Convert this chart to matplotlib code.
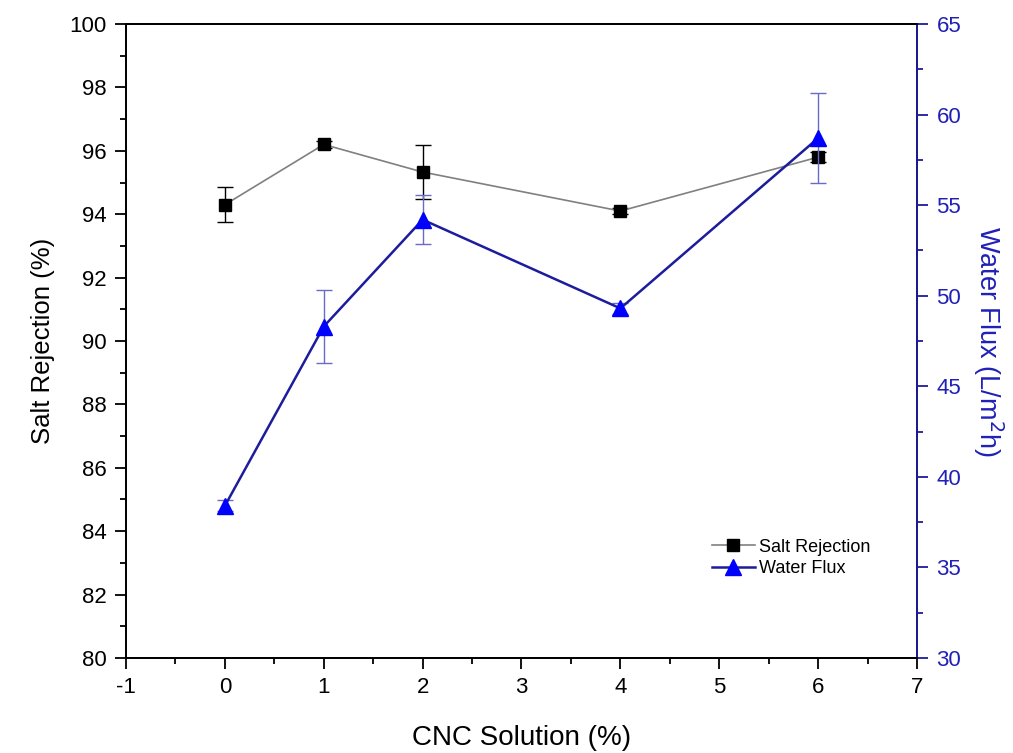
import matplotlib
matplotlib.use("Agg")
import matplotlib.pyplot as plt
from matplotlib.lines import Line2D
from matplotlib.ticker import MultipleLocator

plt.rcParams["font.family"] = ["Liberation Sans", "DejaVu Sans"]
plt.rcParams["axes.unicode_minus"] = False

BLUE, DBLUE, EBLUE, GREY = "#0000ff", "#1c1c9c", "#6a6ac8", "#808080"
LBLUE = "#2020b8"

cnc = [0, 1, 2, 4, 6]
salt_rej = [94.3, 96.2, 95.33, 94.1, 95.8]
salt_err = [0.55, 0.1, 0.85, 0.1, 0.15]
water_flux = [38.4, 48.3, 54.2, 49.3, 58.7]
flux_err = [0.3, 2.0, 1.35, 0.3, 2.5]

fig = plt.figure(figsize=(10.13, 7.53), dpi=100)
ax = fig.add_axes([0.1244, 0.1262, 0.7808, 0.8419])
ax2 = ax.twinx()

ax.errorbar(cnc, salt_rej, yerr=salt_err, color=GREY, lw=1.2, marker="s", ms=9,
            mfc="black", mec="black", ecolor="black", elinewidth=1, capsize=6,
            capthick=1, zorder=3)
ax2.errorbar(cnc, water_flux, yerr=flux_err, color=DBLUE, lw=1.8, marker="^", ms=11,
             mfc=BLUE, mec=BLUE, ecolor=EBLUE, elinewidth=1, capsize=6,
             capthick=1, zorder=3)

ax.set_xlim(-1, 7)
ax.set_ylim(80, 100)
ax2.set_ylim(30, 65)
ax.xaxis.set_major_locator(MultipleLocator(1))
ax.xaxis.set_minor_locator(MultipleLocator(0.5))
ax.yaxis.set_major_locator(MultipleLocator(2))
ax.yaxis.set_minor_locator(MultipleLocator(1))
ax2.yaxis.set_major_locator(MultipleLocator(5))
ax2.yaxis.set_minor_locator(MultipleLocator(2.5))

for a in (ax, ax2):
    a.tick_params(which="major", direction="out", length=8, width=1.3, labelsize=16)
    a.tick_params(which="minor", direction="out", length=4, width=1.3)
    for s in a.spines.values():
        s.set_linewidth(1.3)
ax.tick_params(top=False, right=False, which="both")
ax2.tick_params(axis="y", which="both", colors=DBLUE, labelcolor=LBLUE)
ax2.spines["right"].set_color(DBLUE)
ax.xaxis.set_tick_params(pad=6)
ax.yaxis.set_tick_params(pad=6)
ax2.yaxis.set_tick_params(pad=6)

ax.set_xlabel("CNC Solution (%)", fontsize=20, labelpad=19)
ax.set_ylabel("Salt Rejection (%)", fontsize=18.5, labelpad=10)
ax2.set_ylabel("Water Flux (L/m$^2$h)", fontsize=19.5, color=LBLUE,
               rotation=270, labelpad=32)

handles = [
    Line2D([], [], color=GREY, lw=1.2, marker="s", ms=9, mfc="black", mec="black"),
    Line2D([], [], color=DBLUE, lw=1.8, marker="^", ms=11, mfc=BLUE, mec=BLUE),
]
ax2.legend(handles, ["Salt Rejection", "Water Flux"], loc="lower left",
           bbox_to_anchor=(0.72, 0.102), frameon=False, fontsize=13,
           handlelength=2.4, handletextpad=0.2, labelspacing=0.25)

fig.savefig("out.png", dpi=100, facecolor="white")
